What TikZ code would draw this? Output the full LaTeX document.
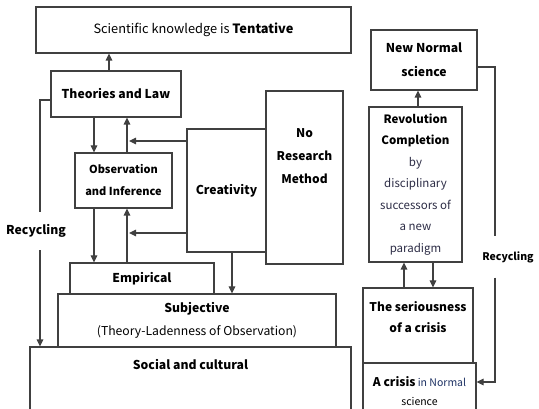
\documentclass[tikz,border=0pt]{standalone}
\usepackage{fontspec}
\setmainfont{Noto Sans CJK KR}
\usetikzlibrary{arrows.meta}
\definecolor{navytext}{RGB}{45,45,70}
\definecolor{bluetext}{RGB}{30,50,100}

\begin{document}
\begin{tikzpicture}[x=1pt, y=-1pt, >={Triangle[length=7pt,width=6.5pt]},
  font=\fontsize{12.2}{22}\selectfont,
  box/.style={draw=black!75, line width=1.1pt, fill=white, align=center, inner sep=0pt},
  conn/.style={draw=black!75, line width=1.1pt}]
\useasboundingbox (0,0) rectangle (539,409);
% lanes for the vertical connectors
\coordinate (lA) at (94,0);
\coordinate (lB) at (127,0);
\coordinate (lC) at (232,0);
\coordinate (lD) at (40,0);
\coordinate (lE) at (495,0);
\coordinate (lF) at (418,0);
\coordinate (lG) at (404,0);
\coordinate (lH) at (433,0);
%
% left column
\node[box, minimum width=321, minimum height=73] (soc) at (190.5,383.5) {};
\node[font=\fontsize{12.2}{22}\bfseries] (soctxt) at (190.5,365) {Social and cultural};
\node[box, minimum width=278, minimum height=53] (subj) at (197,320.5)
  {\textbf{Subjective}\\[1pt](Theory-Ladenness of Observation)};
\node[box, minimum width=144, minimum height=31] (emp) at (142,278.5) {\textbf{Empirical}};
\node[box, minimum width=315, minimum height=46, font=\fontsize{12.8}{22}\selectfont] (tent) at (193.5,30)
  {Scientific knowledge is \textbf{Tentative}};
\node[box, minimum width=130, minimum height=46] (theo) at (116,94) {\textbf{Theories and Law}};
\node[box, minimum width=97, minimum height=55, font=\fontsize{11}{22}\bfseries] (obs) at (123.5,180.5)
  {Observation\\and Inference};
\node[box, minimum width=79, minimum height=123] (crea) at (226.5,190.5) {\textbf{Creativity}};
\node[box, minimum width=77, minimum height=173] (norm) at (304.5,177.5) {};
\node[align=center, font=\fontsize{12}{23}\bfseries] (normtxt) at (304.5,156) {No\\Research\\Method};
\node[font=\fontsize{12.2}{22}\bfseries, minimum height=38, inner sep=0pt] (recl) at (36,231) {Recycling};
%
\draw[conn, ->] (theo.north -| 109,0) -- (tent.south -| 109,0);
\draw[conn, ->] (theo.south -| lA) -- (obs.north -| lA);
\draw[conn, ->] (obs.north -| lB) -- (theo.south -| lB);
\draw[conn, ->] (obs.south -| lA) -- (emp.north -| lA);
\draw[conn, ->] (emp.north -| lB) -- (obs.south -| lB);
\draw[conn, ->] (crea.west |- 0,141) -- ([xshift=2pt]lB |- 0,141);
\draw[conn, ->] (crea.west |- 0,233) -- ([xshift=2pt]lB |- 0,233);
\draw[conn, ->] (crea.south -| lC) -- (subj.north -| lC);
\draw[conn] (theo.west |- 0,100) -| (recl.north -| lD);
\draw[conn, ->] (recl.south -| lD) -- (soc.north -| lD);
%
% right column
\node[box, minimum width=106, minimum height=60, font=\fontsize{12.2}{24}\bfseries] (newn) at (424,60)
  {New Normal\\science};
\node[box, minimum width=93, minimum height=155, font=\fontsize{11.5}{21.5}\selectfont] (rev) at (415.5,184.5)
  {\textbf{Revolution}\\\textbf{Completion}\\\color{navytext}by\\\color{navytext}disciplinary\\
   \color{navytext}successors of\\\color{navytext}a new\\\color{navytext}paradigm};
\node[box, minimum width=110, minimum height=75] (ser) at (418,325.5) {};
\node[align=center, font=\fontsize{12}{21}\bfseries] (sertxt) at (418,317.5) {The seriousness\\of a crisis};
\node[box, minimum width=113, minimum height=57, font=\fontsize{10.5}{19}\selectfont] (cri) at (419.5,391.5)
  {\textbf{\fontsize{12}{19}\selectfont A crisis} {\color{bluetext}in Normal}\\science};
\node[font=\fontsize{10.5}{20}\bfseries, minimum height=41, inner sep=0pt] (recr) at (508,257) {Recycling};
%
\draw[conn, ->] (rev.north -| lF) -- (newn.south -| lF);
\draw[conn, ->] (ser.north -| lG) -- (rev.south -| lG);
\draw[conn, ->] (rev.south -| lH) -- (ser.north -| lH);
\draw[conn] (newn.east |- 0,67) -| (recr.north -| lE);
\draw[conn, ->] (recr.south -| lE) |- (cri.east |- 0,382);
\end{tikzpicture}
\end{document}
